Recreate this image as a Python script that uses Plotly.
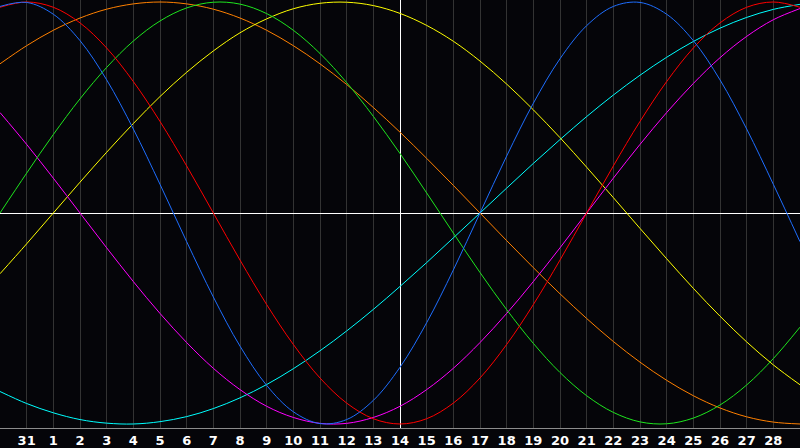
import plotly.graph_objects as go

# day index 0..30 across the chart, value -1..1 for each cycle
days = list(range(31))
day_labels = ["31"] + [str(i) for i in range(1, 29)]
label_days = list(range(1, 30))
today_day = 15

physical = [0.979, 0.998, 0.942, 0.817, 0.631, 0.398, 0.136, -0.136, -0.398, -0.631,
            -0.817, -0.942, -0.998, -0.979, -0.888, -0.731, -0.520, -0.270, 0.000, 0.270,
            0.520, 0.731, 0.888, 0.979, 0.998, 0.942, 0.817, 0.631, 0.398, 0.136, -0.136]
emotional = [0.975, 1.000, 0.975, 0.901, 0.782, 0.623, 0.434, 0.223, 0.000, -0.223,
             -0.434, -0.623, -0.782, -0.901, -0.975, -1.000, -0.975, -0.901, -0.782, -0.623,
             -0.434, -0.223, 0.000, 0.223, 0.434, 0.623, 0.782, 0.901, 0.975, 1.000, 0.975]
intellectual = [0.000, 0.189, 0.372, 0.541, 0.690, 0.815, 0.910, 0.972, 0.999, 0.990,
                0.945, 0.866, 0.756, 0.618, 0.458, 0.282, 0.095, -0.095, -0.282, -0.458,
                -0.618, -0.756, -0.866, -0.945, -0.990, -0.999, -0.972, -0.910, -0.815, -0.690, -0.541]
intuitive = [0.476, 0.325, 0.165, 0.000, -0.165, -0.325, -0.476, -0.614, -0.736, -0.837,
             -0.916, -0.969, -0.997, -0.997, -0.969, -0.916, -0.837, -0.736, -0.614, -0.476,
             -0.325, -0.165, 0.000, 0.165, 0.325, 0.476, 0.614, 0.736, 0.837, 0.916, 0.969]
aesthetic = [-0.288, -0.146, 0.000, 0.146, 0.288, 0.424, 0.552, 0.667, 0.768, 0.854,
             0.920, 0.968, 0.994, 0.999, 0.983, 0.946, 0.889, 0.814, 0.720, 0.611,
             0.489, 0.357, 0.217, 0.073, -0.073, -0.217, -0.357, -0.489, -0.611, -0.720, -0.814]
awareness = [0.707, 0.793, 0.866, 0.924, 0.966, 0.991, 1.000, 0.991, 0.966, 0.924,
             0.866, 0.793, 0.707, 0.609, 0.500, 0.383, 0.259, 0.131, 0.000, -0.131,
             -0.259, -0.383, -0.500, -0.609, -0.707, -0.793, -0.866, -0.924, -0.966, -0.991, -1.000]
spiritual = [-0.846, -0.903, -0.947, -0.979, -0.996, -1.000, -0.989, -0.965, -0.927, -0.876,
             -0.813, -0.738, -0.653, -0.559, -0.457, -0.348, -0.235, -0.118, 0.000, 0.118,
             0.235, 0.348, 0.457, 0.559, 0.653, 0.738, 0.813, 0.876, 0.927, 0.965, 0.989]

series = [
    ("Spiritual", spiritual, "#00ffff"),
    ("Awareness", awareness, "#ff8000"),
    ("Aesthetic", aesthetic, "#ffff00"),
    ("Intuitive", intuitive, "#ff00ff"),
    ("Intellectual", intellectual, "#1ee61e"),
    ("Emotional", emotional, "#ff0000"),
    ("Physical", physical, "#1e6eff"),
]

fig = go.Figure()

for name, vals, col in series:
    fig.add_trace(go.Scatter(
        x=days, y=vals, name=name, mode="lines",
        line=dict(color=col, width=1, shape="spline", smoothing=1.0),
        hoverinfo="skip",
    ))

# invisible trace on a second x axis, only so its single grid line marks today
fig.add_trace(go.Scatter(x=[today_day], y=[0], xaxis="x2", mode="markers",
                         marker=dict(opacity=0), hoverinfo="skip", showlegend=False))

fig.update_layout(
    width=800, height=448,
    margin=dict(l=0, r=0, t=0, b=20, autoexpand=False),
    paper_bgcolor="#050509",
    plot_bgcolor="#050509",
    showlegend=False,
    xaxis=dict(
        range=[0, 30],
        tickvals=label_days,
        ticktext=day_labels,
        ticks="",
        showgrid=True, gridcolor="#333333", gridwidth=1,
        zeroline=False,
        showline=True, linecolor="#8c8c8c", linewidth=1, mirror=True,
        tickfont=dict(family="DejaVu Sans", size=13, color="#ffffff", weight="bold"),
    ),
    xaxis2=dict(
        range=[0, 30], overlaying="x", side="bottom",
        tickvals=[today_day], showticklabels=False, ticks="",
        showgrid=True, gridcolor="#ffffff", gridwidth=1,
        zeroline=False, showline=False,
    ),
    yaxis=dict(
        range=[-1.019, 1.0095],
        showgrid=False, showticklabels=False, ticks="",
        zeroline=True, zerolinecolor="#ffffff", zerolinewidth=1,
        showline=True, linecolor="#8c8c8c", linewidth=1,
    ),
)

# drop the page's default body margin so the chart sits at the window corner
fig.write_html("out.html", config={"displayModeBar": False},
               post_script="document.body.style.margin='0';document.body.style.background='#050509';")
